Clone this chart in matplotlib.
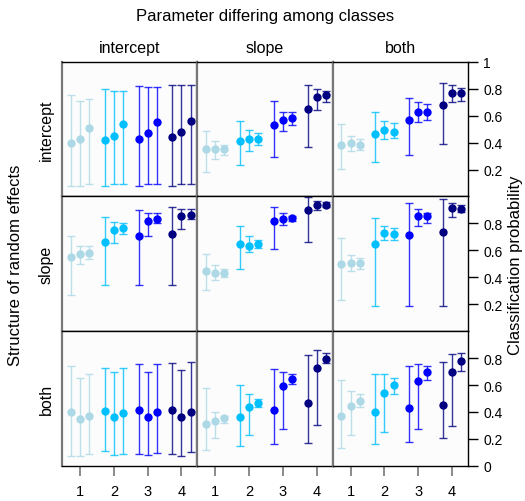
import matplotlib.pyplot as plt
import numpy as np

plt.rcParams['font.family'] = ['Liberation Sans', 'DejaVu Sans']

classes = ['intercept', 'slope', 'both']      # columns: parameter differing among classes
structures = ['intercept', 'slope', 'both']   # rows: structure of random effects
colours = ['lightblue', 'deepskyblue', 'blue', 'navy']
groups = [1, 2, 3, 4]
offsets = [-0.27, 0.0, 0.27]

# point estimates, [row][col][group][replicate]
est = np.array([
    [[[0.40, 0.43, 0.51], [0.42, 0.45, 0.54], [0.43, 0.47, 0.55], [0.44, 0.48, 0.56]],
     [[0.35, 0.35, 0.35], [0.415, 0.43, 0.43], [0.53, 0.57, 0.58], [0.65, 0.74, 0.75]],
     [[0.38, 0.395, 0.38], [0.46, 0.49, 0.48], [0.57, 0.63, 0.625], [0.68, 0.77, 0.765]]],
    [[[0.55, 0.57, 0.58], [0.66, 0.75, 0.765], [0.71, 0.82, 0.835], [0.72, 0.855, 0.865]],
     [[0.45, 0.43, 0.43], [0.65, 0.635, 0.645], [0.82, 0.835, 0.84], [0.90, 0.935, 0.94]],
     [[0.495, 0.505, 0.505], [0.645, 0.73, 0.72], [0.715, 0.855, 0.855], [0.735, 0.915, 0.91]]],
    [[[0.40, 0.345, 0.37], [0.41, 0.36, 0.395], [0.415, 0.365, 0.40], [0.415, 0.365, 0.40]],
     [[0.31, 0.335, 0.355], [0.365, 0.44, 0.465], [0.415, 0.595, 0.645], [0.465, 0.725, 0.79]],
     [[0.37, 0.445, 0.48], [0.40, 0.54, 0.60], [0.43, 0.63, 0.695], [0.45, 0.695, 0.78]]],
])

# lower interval bounds
lower = np.array([
    [[[0.08, 0.08, 0.09], [0.08, 0.09, 0.095], [0.08, 0.09, 0.095], [0.08, 0.09, 0.09]],
     [[0.18, 0.275, 0.31], [0.23, 0.34, 0.385], [0.29, 0.485, 0.53], [0.365, 0.645, 0.70]],
     [[0.205, 0.335, 0.345], [0.255, 0.425, 0.435], [0.31, 0.555, 0.57], [0.39, 0.70, 0.71]]],
    [[[0.27, 0.495, 0.535], [0.34, 0.655, 0.72], [0.34, 0.71, 0.80], [0.34, 0.76, 0.835]],
     [[0.305, 0.38, 0.405], [0.465, 0.585, 0.615], [0.61, 0.79, 0.815], [0.665, 0.90, 0.92]],
     [[0.23, 0.445, 0.465], [0.19, 0.675, 0.68], [0.19, 0.78, 0.805], [0.19, 0.845, 0.885]]],
    [[[0.075, 0.075, 0.085], [0.11, 0.08, 0.09], [0.09, 0.08, 0.095], [0.085, 0.075, 0.10]],
     [[0.12, 0.205, 0.32], [0.145, 0.23, 0.435], [0.16, 0.27, 0.605], [0.17, 0.305, 0.76]],
     [[0.13, 0.23, 0.44], [0.165, 0.255, 0.535], [0.18, 0.275, 0.635], [0.205, 0.295, 0.705]]],
])

# upper interval bounds
upper = np.array([
    [[[0.75, 0.71, 0.72], [0.80, 0.785, 0.78], [0.82, 0.815, 0.81], [0.83, 0.83, 0.83]],
     [[0.485, 0.415, 0.385], [0.56, 0.495, 0.47], [0.71, 0.63, 0.63], [0.83, 0.795, 0.785]],
     [[0.54, 0.45, 0.425], [0.63, 0.56, 0.545], [0.73, 0.70, 0.685], [0.845, 0.83, 0.805]]],
    [[[0.71, 0.63, 0.63], [0.85, 0.81, 0.805], [0.90, 0.88, 0.875], [0.92, 0.905, 0.905]],
     [[0.575, 0.49, 0.46], [0.78, 0.705, 0.68], [0.925, 0.88, 0.855], [0.995, 0.965, 0.96]],
     [[0.695, 0.565, 0.54], [0.84, 0.78, 0.765], [0.95, 0.905, 0.88], [0.98, 0.955, 0.935]]],
    [[[0.74, 0.655, 0.685], [0.73, 0.70, 0.73], [0.755, 0.70, 0.755], [0.765, 0.71, 0.77]],
     [[0.58, 0.40, 0.37], [0.60, 0.53, 0.50], [0.72, 0.695, 0.68], [0.82, 0.86, 0.835]],
     [[0.635, 0.555, 0.53], [0.685, 0.685, 0.655], [0.74, 0.755, 0.745], [0.77, 0.83, 0.835]]],
])

fig, axes = plt.subplots(3, 3, figsize=(5.25, 5.02), dpi=100)
fig.subplots_adjust(left=0.118, right=0.891, top=0.875, bottom=0.07, wspace=0, hspace=0)

for r in range(3):
    for c in range(3):
        ax = axes[r, c]
        ax.set_facecolor('#fcfcfc')
        for g, col in zip(groups, colours):
            xs = g + np.array(offsets)
            ys = est[r, c, g - 1]
            ax.errorbar(xs, ys, yerr=[ys - lower[r, c, g - 1], upper[r, c, g - 1] - ys],
                        fmt='none', ecolor=col, elinewidth=1.0, capsize=3.2,
                        capthick=1.0, alpha=0.8)
            ax.plot(xs, ys, 'o', color=col, markersize=6, markeredgewidth=0)
        ax.set_xlim(0.466, 4.466)
        ax.set_ylim(0, 1)
        for s in ['left', 'right']:
            ax.spines[s].set_color('#777777')
            ax.spines[s].set_linewidth(1.6)
        for s in ['top', 'bottom']:
            ax.spines[s].set_color('black')
            ax.spines[s].set_linewidth(1.0)
        ax.set_xticks([])
        ax.set_yticks([])

        if r == 2:
            ax.set_xticks(groups)
            ax.tick_params(axis='x', length=7, width=1.2, color='#777777',
                           labelsize=10.5, pad=6)
        if c == 2:
            ax.spines['right'].set_color('black')
            ax.spines['right'].set_linewidth(1.0)
            ax.yaxis.tick_right()
            ticks = [0.2, 0.4, 0.6, 0.8]
            if r == 0:
                ticks = ticks + [1.0]
            if r == 2:
                ticks = [0.0] + ticks
            ax.set_yticks(ticks)
            ax.set_yticklabels(['%g' % t for t in ticks])
            ax.tick_params(axis='y', length=7, width=1.0, labelsize=10, pad=4)
        if r == 0:
            ax.set_title(classes[c], fontsize=11.5, pad=7)
        if c == 0:
            ax.set_ylabel(structures[r], fontsize=11.5, labelpad=6)

fig.text(0.505, 0.968, 'Parameter differing among classes', ha='center', va='center', fontsize=12)
fig.text(0.03, 0.472, 'Structure of random effects', rotation=90, ha='center', va='center', fontsize=12)
fig.text(0.981, 0.472, 'Classification probability', rotation=90, ha='center', va='center', fontsize=12)

fig.savefig('out.png', dpi=100)
